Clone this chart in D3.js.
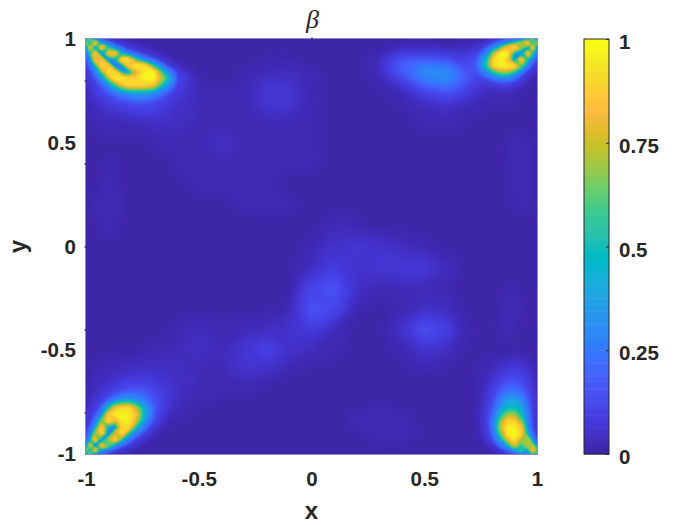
<!DOCTYPE html>
<html>
<head>
<meta charset="utf-8">
<script src="https://cdn.jsdelivr.net/npm/d3@7"></script>
<style>
body { margin: 0; background: #fff; }
text { font-family: "Liberation Sans", Arial, sans-serif; font-weight: bold; fill: #262626; }
</style>
</head>
<body>
<svg id="chart" width="700" height="525"></svg>
<script>
// grid is finer near the corners, that is where the detail is
const xCoords = [-1, -.98, -.96, -.93, -.9, -.87, -.84, -.81, -.78, -.74, -.7, -.65, -.6,
    -.5, -.4, -.3, -.2, -.1, 0, .1, .2, .3, .4, .5,
    .6, .65, .7, .74, .78, .81, .84, .87, .9, .93, .96, .98, 1];
const yCoords = xCoords.slice().reverse();

const xTickLabels = [-1, -0.5, 0, 0.5, 1];
const yTickLabels = [-1, -0.5, 0, 0.5, 1];
const yMinorTicks = [-0.8, -0.4, 0, 0.4, 0.8];
const colorTicks = [0, 0.25, 0.5, 0.75, 1];

// beta in hundredths, first row is y = 1
const betaRows = [
    [30,75,20,8,5,3,2,2,1,1,1,1,1, 1,1,1,1,1,1,1,1,1,1,1, 1,1,1,2,2,3,4,6,10,16,30,75,30],
    [75,50,90,30,10,6,4,3,2,2,1,1,1, 1,1,1,1,1,1,1,1,1,2,2, 1,2,2,3,5,8,14,28,50,70,92,50,80],
    [25,85,35,92,50,16,8,5,3,2,2,1,1, 1,1,1,1,1,1,1,1,1,3,4, 2,3,4,5,10,25,50,82,95,70,25,90,30],
    [12,50,90,12,85,85,40,16,8,4,3,2,1, 1,1,1,1,1,1,1,1,2,7,7, 6,5,7,10,30,70,97,97,35,20,90,50,12],
    [8,22,80,85,12,40,95,92,55,22,9,3,1, 1,1,1,2,2,1,1,1,4,15,16, 14,10,11,17,50,92,98,80,25,92,45,18,8],
    [6,14,38,92,85,10,25,85,97,92,50,10,3, 1,1,1,2,3,1,1,1,3,19,26, 24,15,13,20,55,90,97,96,92,60,16,8,4],
    [5,9,20,55,95,90,40,30,70,97,97,40,8, 1,1,2,3,4,2,1,1,3,16,30, 30,22,14,15,30,50,65,65,45,16,6,3,2],
    [4,7,13,28,65,95,98,90,88,97,98,62,13, 2,1,2,5,5,2,1,1,2,10,27, 30,23,14,9,11,16,22,22,15,7,3,2,1],
    [3,6,9,15,30,55,80,92,90,90,82,40,11, 2,1,2,6,6,2,1,1,2,6,18, 24,18,11,7,5,6,7,7,5,3,2,1,1],
    [3,5,7,10,14,20,26,32,36,36,30,16,8, 3,2,2,7,7,2,1,1,1,3,9, 14,11,8,5,3,3,3,3,3,2,1,1,1],
    [2,4,5,7,9,11,12,14,15,15,13,9,6, 3,2,2,7,7,2,1,1,1,2,5, 8,6,4,3,2,2,2,2,2,1,1,1,1],
    [2,3,3,4,5,6,6,7,8,8,8,7,5, 3,2,2,5,5,2,1,1,1,1,3, 4,3,2,2,1,1,1,1,1,1,1,1,1],
    [1,2,2,3,3,3,3,3,3,4,5,5,4, 3,3,2,3,3,2,1,1,1,1,2, 2,2,1,1,1,1,1,1,1,1,1,1,1],
    [1,1,1,1,1,1,1,1,1,1,2,2,3, 3,4,3,2,2,2,1,1,1,1,1, 1,1,1,1,1,1,1,2,2,2,2,1,1],
    [1,1,1,1,2,2,1,1,1,1,1,1,2, 2,3,3,2,2,2,1,1,1,1,1, 1,1,1,1,1,1,1,2,3,3,2,1,1],
    [1,1,1,2,2,2,1,1,1,1,1,1,1, 2,2,2,2,1,1,1,1,1,1,1, 1,1,1,1,1,1,1,1,3,3,2,1,1],
    [1,1,2,2,2,2,2,1,1,1,1,1,1, 1,1,2,2,2,1,1,1,1,1,1, 1,1,1,1,1,1,1,1,2,2,2,1,1],
    [1,1,1,2,2,2,1,1,1,1,1,1,1, 1,1,1,1,1,1,3,2,1,1,1, 1,1,1,1,1,1,1,1,1,1,1,1,1],
    [1,1,1,1,1,1,1,1,1,1,1,1,1, 1,1,1,1,1,2,6,7,6,4,2, 1,1,1,1,1,1,1,1,1,1,1,1,1],
    [1,1,1,1,1,1,1,1,1,1,1,1,1, 1,1,1,1,1,4,9,6,7,8,8, 4,2,1,1,1,1,1,1,1,1,1,1,1],
    [1,1,1,1,1,1,1,1,1,1,1,1,1, 1,1,1,1,1,11,15,5,2,3,3, 2,1,1,1,1,1,1,2,2,1,1,1,1],
    [1,1,1,1,1,1,1,1,1,1,1,1,1, 1,1,1,1,2,15,12,2,1,2,5, 4,2,1,1,1,1,2,3,3,2,1,1,1],
    [1,1,1,1,1,1,1,1,1,1,1,1,2, 4,2,3,4,6,9,3,1,1,6,14, 10,4,2,1,1,1,2,2,2,1,1,1,1],
    [1,1,1,1,1,1,1,1,1,2,2,2,3, 5,3,7,11,6,3,2,1,1,2,6, 4,2,1,1,1,1,1,1,1,1,1,1,1],
    [1,2,2,3,3,4,4,5,5,5,5,5,4, 3,3,6,5,2,1,1,1,1,1,2, 1,1,1,2,3,4,6,8,9,8,6,3,2],
    [2,2,3,4,5,6,7,8,9,9,8,7,5, 3,2,3,2,1,1,1,1,1,1,1, 1,1,1,2,4,7,11,14,15,13,8,4,2],
    [2,3,4,6,8,11,14,16,17,16,12,8,5, 2,2,2,1,1,1,1,1,1,1,1, 1,1,1,2,5,10,17,23,24,20,12,5,2],
    [3,4,6,9,14,25,32,36,33,25,15,8,4, 2,1,1,1,1,1,1,1,1,1,1, 1,1,1,2,6,14,26,36,38,30,15,6,2],
    [3,5,8,16,50,82,92,92,75,40,16,7,3, 1,1,1,1,1,1,1,1,2,1,1, 1,1,1,2,7,16,35,48,50,40,18,6,2],
    [4,6,11,28,85,96,98,96,85,42,15,5,2, 1,1,1,1,1,1,1,2,3,2,1, 1,1,1,2,8,20,48,68,68,48,20,6,2],
    [5,8,16,62,96,75,95,96,78,33,10,3,2, 1,1,1,1,1,1,1,2,3,2,1, 1,1,1,2,8,24,65,88,88,62,20,6,2],
    [6,11,30,90,35,25,90,90,50,18,6,2,1, 1,1,1,1,1,1,1,2,3,3,1, 1,1,1,2,7,24,72,96,97,82,25,7,2],
    [8,18,65,92,12,75,93,50,22,8,3,1,1, 1,1,1,1,1,1,1,1,2,3,1, 1,1,1,2,6,20,62,95,98,88,35,9,3],
    [12,38,92,10,70,90,45,18,8,3,2,1,1, 1,1,1,1,1,1,1,1,2,2,1, 1,1,1,1,4,12,38,75,95,70,70,25,5],
    [25,85,20,90,60,18,8,4,3,2,1,1,1, 1,1,1,1,1,1,1,1,1,1,1, 1,1,1,1,2,5,14,35,75,50,75,70,20],
    [75,45,90,28,10,5,3,2,1,1,1,1,1, 1,1,1,1,1,1,1,1,1,1,1, 1,1,1,1,1,2,5,10,25,60,35,90,60],
    [30,75,18,7,4,2,2,1,1,1,1,1,1, 1,1,1,1,1,1,1,1,1,1,1, 1,1,1,1,1,1,2,3,6,12,30,45,70]
];

const parula = ["#3e26a8","#402ab4","#422ebf","#4332cb","#4537d5","#463cde","#4741e5","#4747eb",
    "#484df0","#4852f4","#4758f8","#465efa","#4563fd","#4269fe","#3e6fff","#3875fe",
    "#327bfc","#2f81fa","#2d87f7","#2d8cf3","#2b91ef","#2796eb","#259be8","#23a0e5",
    "#20a5e3","#1ca9df","#18addb","#12b1d6","#08b5d0","#01b8ca","#02bac3","#0bbdbd",
    "#19bfb6","#24c1ae","#2cc3a7","#31c69f","#37c897","#3fca8e","#4acb84","#57cc7a",
    "#64cd6f","#71cd64","#81cc59","#8fcb4e","#9dc943","#abc739","#b9c431","#c5c22a",
    "#d1bf27","#dcbd29","#e6bb2d","#efba36","#f8ba3d","#febe3c","#fec338","#fec934",
    "#fccf30","#f9d82d","#f7dc2a","#f5e327","#f5e924","#f6ef20","#f7f51b","#f9fb14"];

const plot = { left: 86, right: 537, top: 39, bottom: 454 };
const bar = { left: 584, right: 609 };
const tickFont = 20.5;

const svg = d3.select("#chart");

const x = d3.scaleLinear().domain([-1, 1]).range([plot.left, plot.right]);
const y = d3.scaleLinear().domain([-1, 1]).range([plot.bottom, plot.top]);
const color = d3.scaleQuantize().domain([0, 100]).range(parula);

// d3.contours puts sample i at i + 0.5, this maps that back onto the uneven grid
const nx = xCoords.length;
const ny = yCoords.length;
const xAt = d3.scaleLinear().domain(d3.range(nx)).range(xCoords).clamp(true);
const yAt = d3.scaleLinear().domain(d3.range(ny)).range(yCoords).clamp(true);

const path = d3.geoPath(d3.geoTransform({
    point(px, py) {
        this.stream.point(x(xAt(px - 0.5)), y(yAt(py - 0.5)));
    }
}));

const thresholds = parula.map((d, i) => i / 64 * 100);
const bands = d3.contours()
    .size([nx, ny])
    .thresholds(thresholds)(d3.merge(betaRows));

// soften the bands: low ones are wide and smooth, the high ones carry thin detail
const defs = svg.append("defs");
[["soft-wide", 5], ["soft-mid", 2.5], ["soft-thin", 0.8]].forEach(([id, sd]) => {
    defs.append("filter")
        .attr("id", id)
        .attr("filterUnits", "userSpaceOnUse")
        .attr("x", 0).attr("y", 0).attr("width", 700).attr("height", 525)
        .attr("color-interpolation-filters", "sRGB")
        .append("feGaussianBlur")
        .attr("stdDeviation", sd);
});
defs.append("clipPath")
    .attr("id", "plot-clip")
    .append("rect")
    .attr("x", plot.left)
    .attr("y", plot.top)
    .attr("width", plot.right - plot.left)
    .attr("height", plot.bottom - plot.top);

svg.append("g")
    .attr("clip-path", "url(#plot-clip)")
    .selectAll("path")
    .data(bands)
    .enter().append("path")
    .attr("d", path)
    .attr("fill", d => color(d.value + 0.01))
    .attr("filter", d => {
        if (d.value === 0) return null;
        if (d.value < 12) return "url(#soft-wide)";
        if (d.value < 30) return "url(#soft-mid)";
        return "url(#soft-thin)";
    });

svg.append("rect")
    .attr("x", plot.left - 0.5)
    .attr("y", plot.top - 0.5)
    .attr("width", plot.right - plot.left + 1)
    .attr("height", plot.bottom - plot.top + 1)
    .attr("fill", "none")
    .attr("stroke", "#8f86c6")
    .attr("stroke-width", 1);

// axes
const xAxis = svg.append("g")
    .attr("transform", `translate(0,${plot.bottom})`)
    .attr("font-family", null)
    .call(d3.axisBottom(x).tickValues(xTickLabels).tickFormat(d => d).tickSize(0).tickPadding(17));
const yAxis = svg.append("g")
    .attr("transform", `translate(${plot.left},0)`)
    .attr("font-family", null)
    .call(d3.axisLeft(y).tickValues(yTickLabels).tickFormat(d => d).tickSize(0).tickPadding(10));

[xAxis, yAxis].forEach(a => {
    a.select(".domain").remove();
    a.selectAll("text").attr("font-size", tickFont);
    a.attr("font-family", null).attr("font-size", null);
});

// the ticks only just stick out of the image
svg.append("g")
    .attr("transform", `translate(${plot.left},0)`)
    .call(d3.axisLeft(y).tickValues(yMinorTicks).tickFormat("").tickSize(1.5))
    .select(".domain").remove();
svg.append("g")
    .attr("transform", `translate(0,${plot.top})`)
    .call(d3.axisTop(x).tickValues([0]).tickFormat("").tickSize(1.5))
    .select(".domain").remove();

svg.append("text")
    .attr("x", x(0))
    .attr("y", 519)
    .attr("text-anchor", "middle")
    .attr("font-size", 24)
    .text("x");

svg.append("text")
    .attr("transform", `translate(26,${y(0)}) rotate(-90)`)
    .attr("text-anchor", "middle")
    .attr("font-size", 24)
    .text("y");

svg.append("text")
    .attr("x", x(0) + 1)
    .attr("y", 28)
    .attr("text-anchor", "middle")
    .attr("font-size", 26)
    .style("font-family", "'Liberation Serif', serif")
    .style("font-style", "italic")
    .style("font-weight", "normal")
    .text("β");

// colorbar
const barY = d3.scaleLinear().domain([0, 1]).range([plot.bottom, plot.top]);
const barBand = d3.scaleBand().domain(d3.range(64)).range([plot.bottom, plot.top]);

svg.append("g")
    .selectAll("rect")
    .data(parula)
    .enter().append("rect")
    .attr("x", bar.left)
    .attr("y", (d, i) => barBand(i))
    .attr("width", bar.right - bar.left)
    .attr("height", barBand.bandwidth() + 0.5)
    .attr("fill", d => d);

svg.append("rect")
    .attr("x", bar.left)
    .attr("y", plot.top)
    .attr("width", bar.right - bar.left)
    .attr("height", plot.bottom - plot.top)
    .attr("fill", "none")
    .attr("stroke", "#262626")
    .attr("stroke-width", 1);

const barAxis = svg.append("g")
    .attr("transform", `translate(${bar.right},0)`)
    .attr("font-family", null)
    .call(d3.axisRight(barY).tickValues(colorTicks).tickFormat(d => d).tickSize(-3).tickPadding(10));
barAxis.select(".domain").remove();
barAxis.selectAll("line").attr("stroke", "#262626");
barAxis.selectAll("text").attr("font-size", tickFont).attr("dy", "0.47em");
barAxis.attr("font-size", null);
</script>
</body>
</html>
